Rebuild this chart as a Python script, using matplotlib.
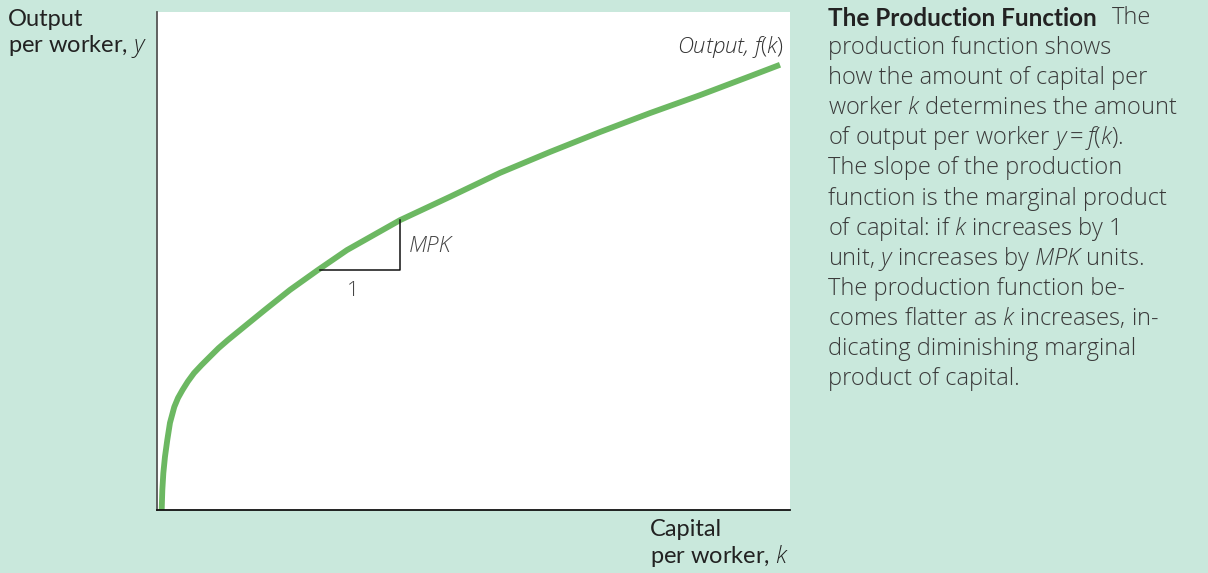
import matplotlib
matplotlib.use('Agg')
from matplotlib import pyplot as plt

# points (k, y) in axis units 0..10
k_vals = [0.074, 0.084, 0.100, 0.126, 0.163, 0.205, 0.273, 0.332, 0.403, 0.487,
          0.585, 0.703, 0.837, 0.972, 1.117, 1.406, 1.706, 2.101, 2.543, 3.002,
          3.839, 4.629, 5.419, 6.209, 6.999, 7.788, 8.578, 9.368, 9.842]
y_vals = [0.0, 0.40, 0.74, 1.07, 1.41, 1.75, 2.07, 2.25, 2.41, 2.58,
          2.75, 2.91, 3.08, 3.25, 3.41, 3.71, 4.02, 4.42, 4.82, 5.22,
          5.82, 6.29, 6.77, 7.19, 7.59, 7.97, 8.33, 8.71, 8.94]

# MPK triangle corners
tri_k = [2.575, 3.84, 3.84]
tri_y = [4.82, 4.82, 5.82]

desc_lines = [
    "",  # first line is the bold title
    "production function shows",
    "how the amount of capital per",
    "worker $k$ determines the amount",
    "of output per worker $y = f(k)$.",
    "The slope of the production",
    "function is the marginal product",
    "of capital: if $k$ increases by 1",
    "unit, $y$ increases by $MPK$ units.",
    "The production function be-",
    "comes flatter as $k$ increases, in-",
    "dicating diminishing marginal",
    "product of capital.",
]

plt.rcParams['font.family'] = ['Open Sans', 'DejaVu Sans']
plt.rcParams['mathtext.fontset'] = 'custom'
plt.rcParams['mathtext.rm'] = 'Open Sans:light'
plt.rcParams['mathtext.it'] = 'Open Sans:light:italic'

W, H = 1208, 573
bg = '#c9e8dc'
fig = plt.figure(figsize=(W / 100, H / 100), dpi=100, facecolor=bg)


def px(x, y):
    return x / W, 1 - y / H


ax = fig.add_axes([157 / W, (H - 510) / H, (790 - 157) / W, (510 - 12) / H])
ax.set_facecolor('white')
ax.set_xlim(0, 10)
ax.set_ylim(0, 10)
ax.set_xticks([])
ax.set_yticks([])
for s in ['top', 'right']:
    ax.spines[s].set_visible(False)
ax.spines['left'].set_color('#555555')
ax.spines['left'].set_linewidth(1.3)
ax.spines['bottom'].set_color('#111111')
ax.spines['bottom'].set_linewidth(1.3)

ax.plot(k_vals, y_vals, color='#6cb862', lw=4.2, solid_capstyle='butt',
        solid_joinstyle='round', clip_on=False)
ax.plot(tri_k, tri_y, color='#111111', lw=1.1)
ax.text(3.98, 5.3, "MPK", fontsize=16, style='italic', color='#444444',
        fontweight='light', va='center', ha='left')
ax.text(3.1, 4.4, "1", fontsize=15, color='#444444', fontweight='light',
        va='center', ha='center')
ax.text(9.9, 9.3, "Output, $f(k)$", fontsize=16, style='italic', color='#333333',
        fontweight='light', va='center', ha='right')

# axis titles
lab = dict(fontsize=17, color='#222222', va='center', ha='left', family=['Lato', 'DejaVu Sans'])
fig.text(*px(8, 20), "Output", **lab)
fig.text(*px(8, 47), "per worker, $y$", **lab)
fig.text(*px(650, 530), "Capital", **lab)
fig.text(*px(650, 556), "per worker, $k$", **lab)

# description panel
fig.text(*px(828, 18), "The Production Function", fontsize=17.5, fontweight='bold',
         color='#222222', va='center', ha='left', family=['Lato', 'DejaVu Sans'])
fig.text(*px(1112, 18), "The", fontsize=17, color='#3a3a3a', va='center', ha='left',
         fontweight='light')
for i, line in enumerate(desc_lines):
    if not line:
        continue
    fig.text(*px(828, 18 + i * 30.1), line, fontsize=17, fontweight='light',
             color='#3a3a3a', va='center', ha='left')

fig.savefig('out.png', dpi=100, facecolor=bg)
